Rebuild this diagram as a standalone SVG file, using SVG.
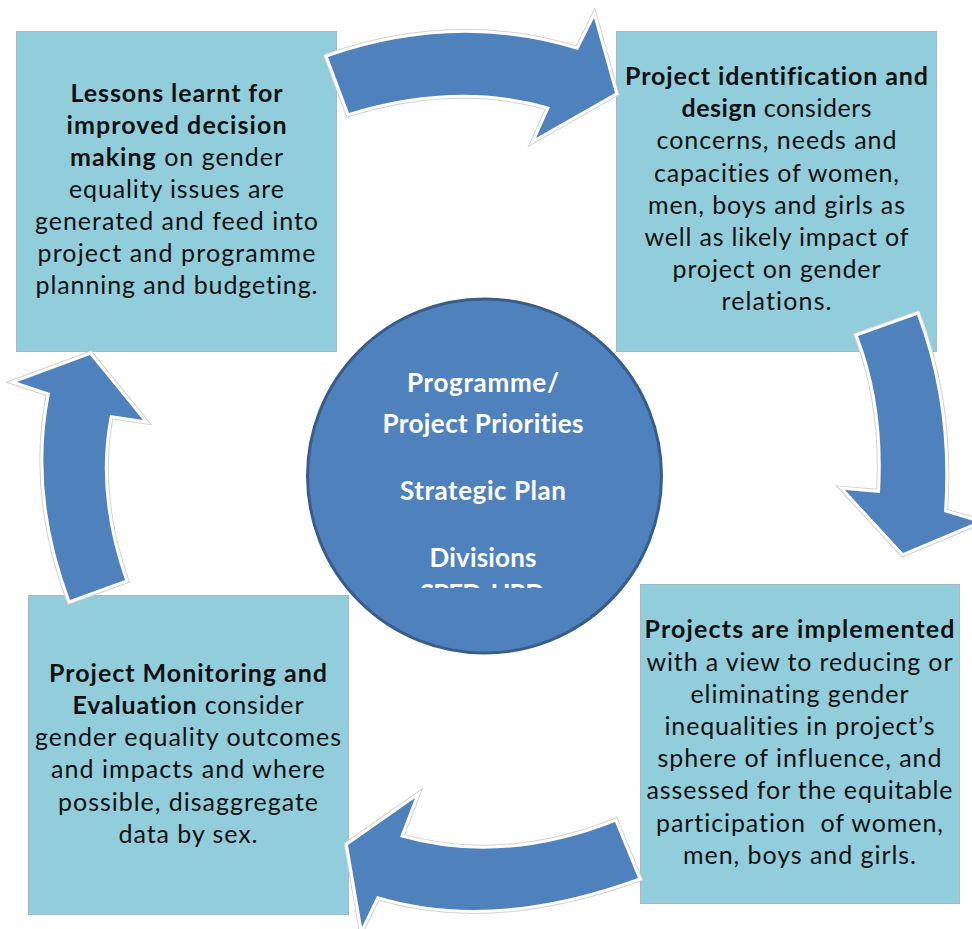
<svg xmlns="http://www.w3.org/2000/svg" xmlns:xlink="http://www.w3.org/1999/xlink" width="972" height="929" viewBox="0 0 972 929">
<style>
.box{fill:#92CDDC;stroke:#a7b9c2;stroke-width:1}
.t{font-family:Lato,"Liberation Sans","DejaVu Sans",sans-serif;font-size:25px;fill:#111;text-anchor:middle;font-variant-ligatures:none}
.b{font-weight:bold}
.c{font-family:Lato,"Liberation Sans","DejaVu Sans",sans-serif;font-size:26px;font-weight:bold;fill:#fff;text-anchor:middle;font-variant-ligatures:none}
.hub{fill:#4F81BD;stroke:#385D8A;stroke-width:3}
.aedge{fill:none;stroke:#d2d2d2;stroke-width:8;stroke-linejoin:miter;stroke-miterlimit:12}
.arrow{fill:#4F81BD;stroke:#fff;stroke-width:6;stroke-linejoin:miter;stroke-miterlimit:12;paint-order:stroke fill}
</style>
<defs>
<clipPath id="hubclip"><rect x="300" y="290" width="380" height="298"/></clipPath>
<path id="a-top" d="M328,57 Q457,12.5 578,50 L594,18 L615,93 L536,138 L550,107 Q456.5,80 349,113 Z"/>
<path id="a-right" d="M858,336 L917,315 Q951.5,406.5 944,512 L977,522 L903,553 L845,490 L880,493 Q885,405.5 858,336 Z"/>
<path id="a-bottom" d="M615,822 L638,878 Q492.5,931 377,896 L362,927 L348,845 L415,798 L400,837 Q502.5,866.5 615,822 Z"/>
<path id="a-left" d="M70,600 L125,580 Q94.5,492.5 110,415 L143,420 L90,355 L17,382 L50,393 Q30,493.5 70,600 Z"/>
</defs>
<rect width="972" height="929" fill="#fff"/>

<g id="box-lessons">
<rect class="box" x="16.5" y="31.5" width="320" height="320"/>
<text class="t b" x="176.5" y="101.7" textLength="212" lengthAdjust="spacing">Lessons learnt for</text>
<text class="t b" x="176.5" y="133.8" textLength="220" lengthAdjust="spacing">improved decision</text>
<text class="t" x="176.5" y="165.9" textLength="213" lengthAdjust="spacing"><tspan class="b">making</tspan> on gender</text>
<text class="t" x="176.5" y="198" textLength="215" lengthAdjust="spacing">equality issues are</text>
<text class="t" x="176.5" y="230.1" textLength="283" lengthAdjust="spacing">generated and feed into</text>
<text class="t" x="176.5" y="262.2" textLength="278" lengthAdjust="spacing">project and programme</text>
<text class="t" x="176.5" y="294.3" textLength="282" lengthAdjust="spacing">planning and budgeting.</text>
</g>

<g id="box-identification">
<rect class="box" x="616.5" y="31.5" width="320" height="320"/>
<text class="t b" x="776.5" y="85" textLength="303" lengthAdjust="spacing">Project identification and</text>
<text class="t" x="776.5" y="117.2" textLength="190" lengthAdjust="spacing"><tspan class="b">design</tspan> considers</text>
<text class="t" x="776.5" y="149.4" textLength="240" lengthAdjust="spacing">concerns, needs and</text>
<text class="t" x="776.5" y="181.6" textLength="245" lengthAdjust="spacing">capacities of women,</text>
<text class="t" x="776.5" y="213.8" textLength="257" lengthAdjust="spacing">men, boys and girls as</text>
<text class="t" x="776.5" y="246" textLength="264" lengthAdjust="spacing">well as likely impact of</text>
<text class="t" x="776.5" y="278.2" textLength="208" lengthAdjust="spacing">project on gender</text>
<text class="t" x="776.5" y="310.4" textLength="110" lengthAdjust="spacing">relations.</text>
</g>

<g id="box-implemented">
<rect class="box" x="640.5" y="584.5" width="319" height="319"/>
<text class="t b" x="799.5" y="638.3" textLength="310" lengthAdjust="spacing">Projects are implemented</text>
<text class="t" x="799.5" y="670.5" textLength="306" lengthAdjust="spacing">with a view to reducing or</text>
<text class="t" x="799.5" y="702.7" textLength="218" lengthAdjust="spacing">eliminating gender</text>
<text class="t" x="799.5" y="734.9" textLength="270" lengthAdjust="spacing">inequalities in project’s</text>
<text class="t" x="799.5" y="767.1" textLength="284" lengthAdjust="spacing">sphere of influence, and</text>
<text class="t" x="799.5" y="799.3" textLength="306" lengthAdjust="spacing">assessed for the equitable</text>
<text class="t" x="799.5" y="831.5" textLength="287" lengthAdjust="spacing">participation &#160;of women,</text>
<text class="t" x="799.5" y="863.7" textLength="233" lengthAdjust="spacing">men, boys and girls.</text>
</g>

<g id="box-monitoring">
<rect class="box" x="28.5" y="595.5" width="320" height="319"/>
<text class="t b" x="188" y="681.7" textLength="278" lengthAdjust="spacing">Project Monitoring and</text>
<text class="t" x="188" y="713.9" textLength="231" lengthAdjust="spacing"><tspan class="b">Evaluation</tspan> consider</text>
<text class="t" x="188" y="746.1" textLength="306" lengthAdjust="spacing">gender equality outcomes</text>
<text class="t" x="188" y="778.3" textLength="274" lengthAdjust="spacing">and impacts and where</text>
<text class="t" x="188" y="810.5" textLength="260" lengthAdjust="spacing">possible, disaggregate</text>
<text class="t" x="188" y="842.7" textLength="139" lengthAdjust="spacing">data by sex.</text>
</g>

<g id="hub">
<circle class="hub" cx="484.5" cy="476" r="177"/>
<text class="c" x="483" y="391.7" textLength="152" lengthAdjust="spacing">Programme/</text>
<text class="c" x="483" y="432.7" textLength="201" lengthAdjust="spacing">Project Priorities</text>
<text class="c" x="483" y="500.3" textLength="166" lengthAdjust="spacing">Strategic Plan</text>
<text class="c" x="483" y="566.7" textLength="107" lengthAdjust="spacing">Divisions</text>
<text class="c" x="482.5" y="603" textLength="125" lengthAdjust="spacing" clip-path="url(#hubclip)">SPED, HRD</text>
</g>

<g id="connectors">
<use xlink:href="#a-top" class="aedge"/>
<use xlink:href="#a-top" class="arrow"/>
<use xlink:href="#a-right" class="aedge"/>
<use xlink:href="#a-right" class="arrow"/>
<use xlink:href="#a-bottom" class="aedge"/>
<use xlink:href="#a-bottom" class="arrow"/>
<use xlink:href="#a-left" class="aedge"/>
<use xlink:href="#a-left" class="arrow"/>
</g>
</svg>
